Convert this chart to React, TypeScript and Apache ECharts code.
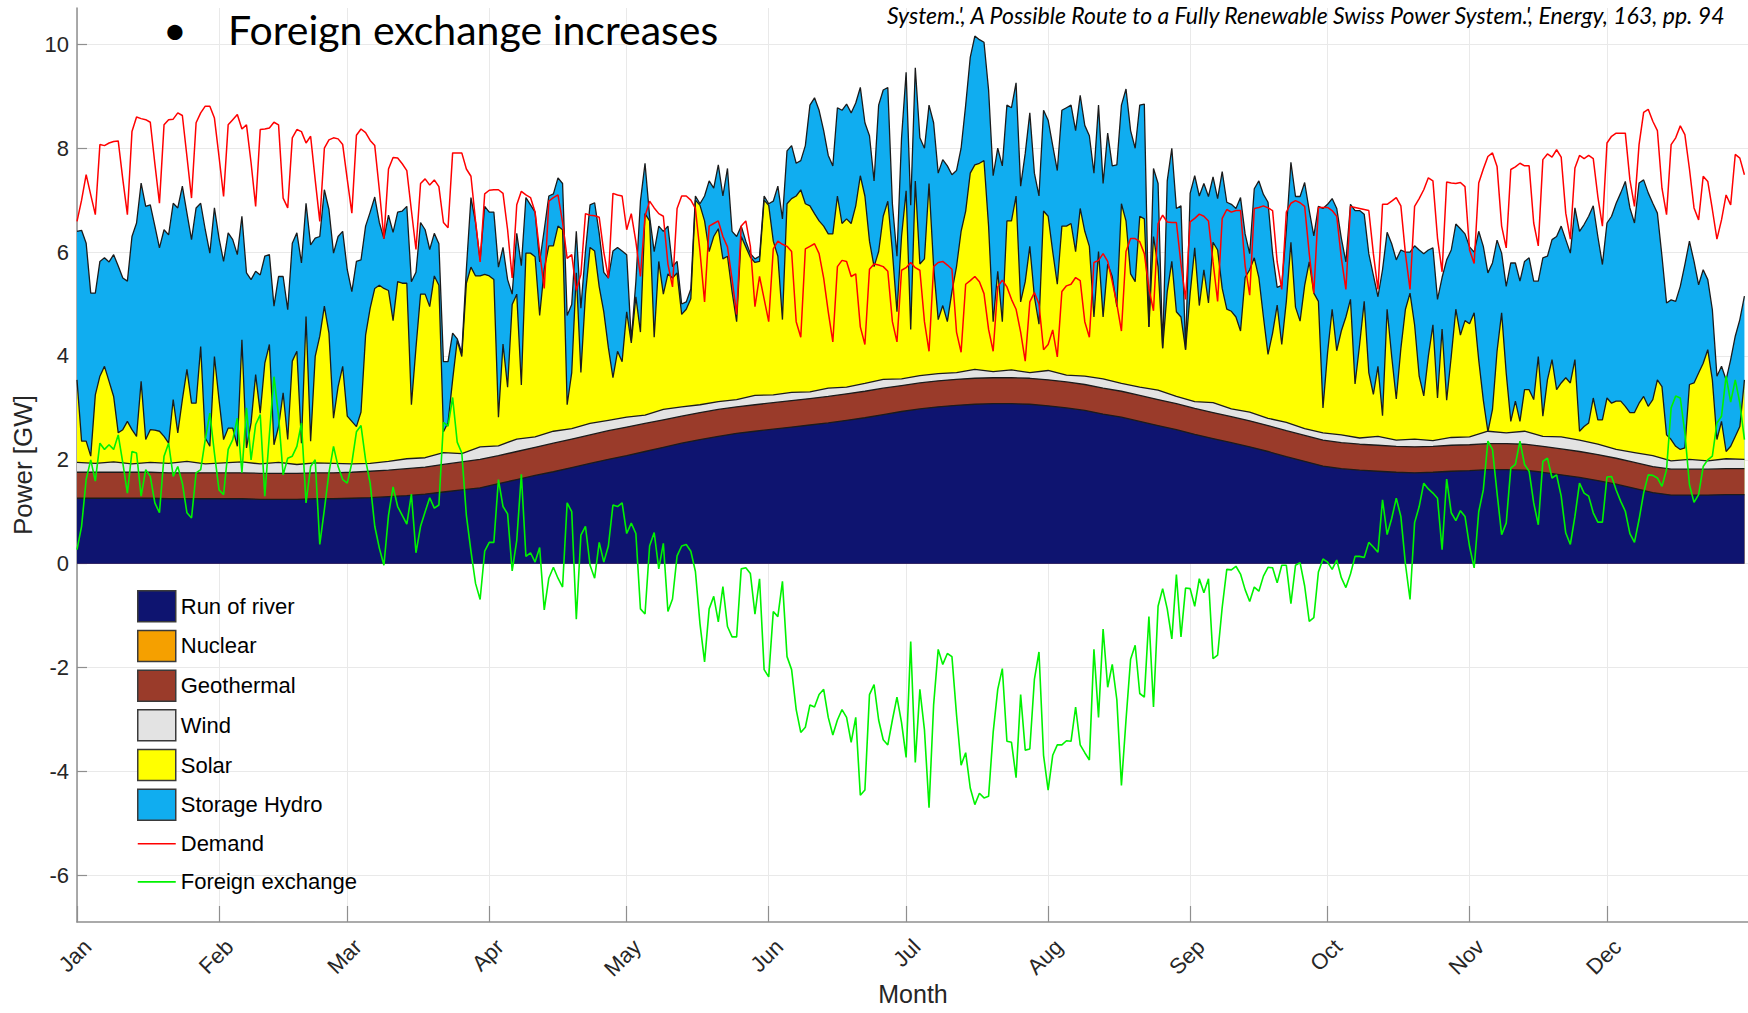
import React, { useEffect, useRef } from 'react';
import * as echarts from 'echarts';

const FONT = '"Liberation Sans", Arial, Helvetica, sans-serif';

const monthNames = ['Jan', 'Feb', 'Mar', 'Apr', 'May', 'Jun', 'Jul', 'Aug', 'Sep', 'Oct', 'Nov', 'Dec'];
const monthStarts = [0, 31, 59, 90, 120, 151, 181, 212, 243, 273, 304, 334];
const yTicks = [-6, -4, -2, 0, 2, 4, 6, 8, 10];

// Daily demand (GW), day 0 = 1 Jan
const demand = [
  6.59, 7.0, 7.49, 7.1, 6.72,
  8.07, 8.05, 8.1, 8.13, 8.14, 7.4, 6.72,
  8.32, 8.6, 8.57, 8.55, 8.5, 7.7, 6.94,
  8.45, 8.55, 8.56, 8.68, 8.63, 7.84, 7.04,
  8.49, 8.68, 8.81, 8.81, 8.58, 7.84, 7.07,
  8.45, 8.55, 8.65, 8.37, 8.45, 7.72, 6.88,
  8.36, 8.37, 8.39, 8.5, 8.45, 7.04, 6.85,
  8.2, 8.36, 8.32, 8.1, 8.23, 7.39, 6.59,
  8.0, 8.16, 8.2, 8.18, 8.07, 7.4, 6.75,
  8.25, 8.37, 8.3, 8.15, 8.05, 7.2, 6.26,
  7.6, 7.82, 7.81, 7.7, 7.57, 6.8, 6.05,
  7.32, 7.41, 7.29, 7.39, 7.26, 6.57, 6.47,
  7.91, 7.91, 7.91, 7.6, 7.46, 6.6, 5.81,
  7.12, 7.19, 7.2, 7.2, 7.13, 6.43, 5.5,
  6.91, 7.17, 7.1, 7.05, 6.77, 6.0, 5.3,
  6.98, 7.05, 7.1, 6.57, 5.88, 5.95, 5.26,
  5.57, 6.74, 6.71, 6.7, 6.67, 6.0, 5.5,
  7.13, 7.1, 7.08, 6.43, 6.74, 6.2, 5.53,
  6.69, 6.98, 6.85, 6.74, 6.69, 5.77, 5.33,
  6.84, 7.08, 7.08, 7.0, 6.84, 6.01, 5.04,
  6.5, 6.55, 6.6, 6.3, 6.1, 5.48, 4.8,
  6.5, 6.6, 6.11, 4.95, 5.53, 5.1, 4.66,
  6.06, 6.21, 6.15, 6.11, 6.01, 4.66, 4.36,
  6.06, 6.11, 6.16, 5.97, 5.5, 4.85, 4.27,
  5.72, 5.84, 5.82, 5.53, 5.58, 4.56, 4.22,
  5.67, 5.77, 5.75, 5.72, 5.63, 4.66, 4.27,
  5.65, 5.7, 5.8, 5.7, 5.65, 4.66, 4.09,
  5.72, 5.8, 5.82, 5.75, 5.67, 4.46, 4.07,
  5.38, 5.45, 5.53, 5.43, 5.2, 4.51, 4.09,
  5.33, 5.46, 5.33, 5.09, 4.9, 4.46, 3.9,
  5.04, 5.22, 5.0, 4.12, 4.22, 4.5, 3.98,
  5.24, 5.35, 5.38, 5.51, 5.45, 4.66, 4.36,
  5.8, 5.84, 5.97, 5.82, 5.43, 5.0, 4.48,
  6.01, 6.26, 6.26, 6.2, 5.97, 5.3, 4.87,
  6.55, 6.71, 6.58, 6.57, 6.57, 5.77, 5.09,
  6.58, 6.65, 6.73, 6.69, 6.6, 5.81, 5.05,
  6.65, 6.82, 6.77, 6.8, 6.8, 5.74, 5.17,
  6.84, 6.86, 6.89, 6.85, 6.8, 5.81, 5.28,
  6.77, 6.94, 6.99, 6.95, 6.88, 5.97, 5.21,
  6.86, 6.86, 6.86, 6.8, 6.69, 5.89, 5.28,
  6.88, 6.86, 6.84, 6.82, 6.8, 5.97, 5.28,
  6.92, 6.92, 6.98, 7.05, 6.89, 5.97, 5.28,
  6.88, 7.03, 7.2, 7.43, 7.37, 6.27, 5.62,
  7.35, 7.33, 7.32, 7.34, 7.26, 6.04, 5.78,
  7.33, 7.6, 7.84, 7.91, 7.65, 6.5, 6.08,
  7.59, 7.64, 7.71, 7.66, 7.66, 6.56, 6.12,
  7.78, 7.89, 7.83, 7.97, 7.83, 6.75, 6.25,
  7.62, 7.86, 7.8, 7.86, 7.8, 7.07, 6.5,
  8.1, 8.23, 8.29, 8.29, 8.29, 7.39, 6.88,
  8.07, 8.69, 8.75, 8.52, 8.34, 7.23, 6.72,
  8.07, 8.2, 8.43, 8.26, 7.6, 6.85, 6.62,
  7.46, 7.36, 6.82, 6.25, 6.62, 7.1, 6.91,
  7.88, 7.81, 7.49,
];

// Daily foreign exchange (GW)
const foreignExchange = [
  0.27, 0.72, 1.62, 2.0, 1.59, 2.32, 2.2, 2.29, 2.2, 2.48,
  1.94, 1.36, 2.16, 2.13, 1.3, 1.81, 1.68, 1.17, 0.98, 2.07,
  2.32, 1.68, 1.87, 1.55, 0.98, 0.88, 1.75, 1.81, 2.39, 2.9,
  2.13, 1.42, 1.33, 2.2, 2.39, 2.8, 1.75, 3.0, 2.0, 2.68,
  2.87, 1.3, 2.48, 3.6, 2.84, 1.71, 2.03, 2.07, 2.26, 2.71,
  1.17, 1.87, 2.0, 0.37, 1.04, 1.75, 2.26, 1.87, 1.62, 1.55,
  1.94, 2.54, 2.66, 2.0, 1.55, 0.72, 0.3, -0.03, 0.93, 1.48,
  1.1, 0.93, 0.76, 1.34, 0.21, 0.72, 1.0, 1.27, 1.07, 1.13,
  2.72, 2.65, 3.2, 2.34, 2.13, 0.93, 0.24, -0.38, -0.69, 0.24,
  0.41, 0.41, 1.62, 1.1, 0.96, -0.14, 0.45, 1.72, 0.14, 0.21,
  0.03, 0.31, -0.89, -0.28, -0.07, -0.28, -0.45, 1.17, 1.0, -1.07,
  0.55, 0.72, -0.03, -0.28, 0.41, 0.03, 0.34, 1.13, 1.1, 1.17,
  0.58, 0.78, 0.58, -0.87, -0.97, 0.34, 0.6, -0.1, 0.39, -0.92,
  -0.68, 0.15, 0.34, 0.37, 0.24, -0.15, -1.16, -1.89, -0.87, -0.63,
  -1.12, -0.44, -1.21, -1.41, -1.41, -0.1, -0.08, -0.19, -0.97, -0.29,
  -2.04, -2.18, -0.92, -1.02, -0.34, -1.79, -2.04, -2.81, -3.25, -3.15,
  -2.72, -2.76, -2.52, -2.42, -2.96, -3.3, -3.01, -2.81, -2.96, -3.44,
  -2.96, -4.46, -4.36, -2.52, -2.33, -3.01, -3.39, -3.49, -3.01, -2.57,
  -3.06, -3.73, -1.5, -3.83, -2.42, -3.2, -4.7, -2.72, -1.65, -1.94,
  -1.73, -1.79, -2.91, -3.88, -3.64, -4.32, -4.64, -4.42, -4.51, -4.48,
  -3.25, -2.42, -2.02, -3.42, -3.44, -4.12, -2.52, -3.59, -3.57, -2.23,
  -1.7, -3.69, -4.36, -3.69, -3.49, -3.49, -3.41, -3.42, -2.76, -3.49,
  -3.64, -3.78, -1.65, -2.96, -1.26, -2.38, -1.94, -2.62, -4.27, -3.01,
  -1.84, -1.57, -2.5, -2.57, -1.02, -2.76, -0.82, -0.48, -0.87, -1.45,
  -0.21, -1.41, -0.47, -0.48, -0.82, -0.29, -0.56, -0.29, -1.83, -1.76,
  -0.84, -0.11, -0.12, -0.05, -0.2, -0.5, -0.73, -0.45, -0.53, -0.24,
  -0.07, -0.08, -0.37, -0.03, -0.03, -0.77, -0.03, 0.02, -0.43, -1.11,
  -1.04, -0.16, 0.09, 0.03, -0.11, 0.07, -0.27, -0.46, -0.2, 0.14,
  0.14, 0.12, 0.41, 0.32, 0.22, 1.23, 0.56, 0.87, 1.26, 0.91,
  -0.01, -0.69, 0.79, 1.1, 1.55, 1.44, 1.36, 1.26, 0.27, 1.63,
  0.98, 0.83, 1.02, 0.91, 0.33, -0.08, 1.0, 1.42, 2.36, 2.2,
  1.36, 0.56, 0.78, 1.84, 1.91, 2.36, 1.91, 1.78, 1.17, 0.75,
  1.97, 2.03, 1.65, 1.71, 1.3, 0.59, 0.37, 0.91, 1.55, 1.36,
  1.3, 0.98, 0.8, 0.8, 1.67, 1.68, 1.42, 1.2, 1.01, 0.58,
  0.41, 0.85, 1.36, 1.71, 1.7, 1.65, 1.49, 1.81, 3.0, 3.23,
  3.19, 2.52, 1.52, 1.18, 1.33, 1.87, 2.0, 2.07, 2.71, 2.84,
  3.61, 3.11, 3.54, 3.09, 2.39,
];

// Daily top edge of the Storage Hydro layer (total generation, GW)
const storageHydroTop = [
  6.4, 6.42, 6.17, 5.21, 5.21, 5.82, 5.89, 5.81, 5.95, 5.73,
  5.5, 5.44, 6.3, 6.56, 7.33, 6.88, 6.91, 6.5, 6.08, 6.43,
  6.33, 6.94, 6.85, 7.27, 6.75, 6.24, 6.85, 6.94, 6.43, 5.98,
  6.85, 6.27, 5.82, 6.37, 6.24, 5.95, 6.69, 5.6, 5.47, 5.63,
  5.56, 5.92, 5.95, 4.96, 5.53, 5.53, 4.89, 6.17, 6.37, 5.79,
  6.94, 6.14, 6.27, 6.3, 7.2, 6.82, 5.98, 6.3, 6.4, 5.66,
  5.24, 5.82, 5.85, 6.5, 6.77, 7.06, 6.57, 6.26, 6.71, 6.38,
  6.77, 6.79, 6.88, 5.43, 5.61, 6.57, 6.43, 6.05, 6.36, 6.16,
  3.89, 3.89, 4.44, 4.33, 4.06, 5.67, 7.05, 6.57, 5.85, 6.88,
  6.77, 6.77, 5.71, 6.09, 5.47, 5.19, 6.36, 5.74, 7.05, 6.91,
  6.77, 5.81, 6.43, 7.08, 7.12, 7.43, 7.32, 4.78, 4.99, 6.4,
  4.92, 6.02, 6.91, 6.95, 6.36, 5.61, 5.5, 6.02, 6.09, 6.02,
  5.95, 4.3, 5.43, 6.98, 7.71, 6.69, 6.01, 6.5, 6.4, 6.5,
  5.72, 5.82, 5.0, 5.04, 5.29, 7.08, 6.93, 7.08, 7.37, 7.23,
  7.68, 7.08, 7.61, 6.4, 6.3, 6.5, 6.21, 5.97, 5.87, 5.92,
  7.08, 6.93, 6.98, 7.27, 6.64, 7.95, 8.05, 7.71, 7.76, 8.05,
  8.83, 8.97, 8.73, 8.34, 7.86, 7.66, 8.78, 8.73, 8.85, 8.68,
  8.87, 9.17, 8.49, 8.24, 7.37, 8.83, 9.12, 9.17, 6.93, 5.92,
  8.2, 9.46, 6.9, 9.55, 8.2, 8.0, 8.83, 8.49, 7.52, 7.78,
  7.66, 7.49, 7.57, 8.0, 8.83, 9.75, 10.16, 10.09, 10.04, 9.12,
  7.47, 8.0, 7.66, 8.83, 8.78, 9.26, 7.27, 7.9, 8.68, 7.52,
  7.08, 8.73, 8.54, 8.05, 7.57, 8.73, 8.78, 8.83, 8.34, 9.02,
  8.44, 8.24, 7.52, 8.83, 7.32, 8.29, 7.66, 7.68, 8.83, 9.14,
  8.34, 8.0, 8.83, 8.85, 4.56, 7.61, 7.32, 4.15, 7.37, 8.0,
  6.84, 6.89, 4.12, 7.13, 7.47, 7.08, 7.32, 7.07, 7.45, 7.03,
  7.55, 6.96, 6.92, 6.84, 7.05, 6.35, 5.97, 7.22, 7.37, 7.11,
  6.96, 5.97, 5.32, 5.36, 6.42, 7.73, 7.07, 7.07, 7.34, 6.8,
  6.31, 6.88, 6.84, 6.92, 7.03, 6.84, 6.27, 5.81, 6.92, 6.8,
  6.8, 6.73, 5.97, 5.55, 5.14, 5.66, 6.38, 6.16, 5.85, 6.04,
  6.0, 6.0, 6.12, 6.04, 5.97, 6.04, 6.08, 5.09, 5.51, 5.85,
  6.04, 6.54, 6.45, 6.35, 6.1, 6.0, 6.4, 6.11, 5.6, 5.79,
  6.23, 5.98, 5.34, 5.79, 5.79, 5.44, 5.82, 5.89, 5.44, 5.44,
  5.89, 5.92, 6.24, 6.3, 6.5, 6.24, 5.98, 6.85, 6.4, 6.53,
  6.69, 6.89, 6.3, 5.76, 6.56, 6.69, 6.94, 7.14, 7.36, 6.85,
  6.56, 7.33, 7.39, 7.14, 6.94, 6.75, 5.92, 5.02, 5.08, 5.05,
  5.34, 5.76, 6.21, 5.82, 5.37, 5.66, 5.47, 4.89, 3.61, 3.8,
  3.54, 3.93, 4.38, 4.7, 5.15,
];

// Daily top edge of the Solar layer (GW)
const solarTop = [
  3.54, 2.36, 2.36, 2.07, 3.25, 3.61, 3.8, 3.51, 3.22, 2.52,
  2.58, 2.74, 2.58, 2.45, 3.51, 2.39, 2.58, 2.57, 2.55, 2.45,
  2.32, 3.16, 2.52, 3.16, 3.74, 3.09, 3.09, 4.18, 2.42, 2.26,
  3.99, 3.16, 2.39, 2.61, 2.61, 2.26, 4.31, 2.23, 2.71, 3.64,
  2.9, 3.86, 4.22, 2.29, 2.64, 3.29, 2.39, 3.9, 4.09, 2.32,
  4.76, 2.36, 3.99, 4.38, 4.96, 4.44, 2.8, 3.41, 3.8, 2.84,
  2.74, 2.64, 2.92, 4.4, 4.92, 5.3, 5.36, 5.3, 5.26, 4.68,
  5.43, 5.4, 5.4, 3.06, 4.16, 5.19, 5.19, 4.95, 5.54, 5.36,
  2.54, 2.72, 3.54, 4.3, 3.99, 5.4, 5.71, 5.54, 5.54, 5.57,
  5.54, 5.47, 2.82, 4.23, 3.4, 4.99, 5.19, 3.44, 5.98, 5.98,
  5.91, 4.78, 5.67, 6.12, 6.12, 6.5, 6.43, 3.06, 3.68, 5.6,
  3.68, 5.19, 6.09, 6.02, 5.33, 4.85, 4.16, 3.58, 4.09, 3.89,
  4.85, 4.25, 5.14, 4.46, 6.74, 6.6, 4.36, 5.82, 5.19, 5.58,
  5.5, 5.6, 4.8, 4.9, 5.1, 7.0, 6.9, 6.6, 6.01, 6.3,
  6.45, 5.87, 5.92, 5.24, 4.66, 6.3, 6.1, 5.9, 5.8, 5.82,
  7.0, 6.9, 6.21, 5.92, 4.7, 6.93, 7.03, 7.08, 7.2, 6.93,
  6.89, 6.74, 6.6, 6.5, 6.35, 6.35, 7.08, 6.55, 6.64, 6.55,
  6.89, 7.47, 7.08, 6.21, 5.72, 6.01, 6.69, 6.98, 6.01, 4.85,
  6.3, 7.18, 4.51, 7.37, 5.77, 5.87, 7.32, 5.72, 4.7, 4.97,
  4.66, 5.24, 5.72, 6.4, 6.79, 7.52, 7.68, 7.71, 7.76, 6.5,
  4.66, 5.63, 4.66, 6.6, 6.6, 7.08, 5.04, 5.43, 6.11, 5.14,
  4.61, 6.79, 6.69, 6.01, 5.38, 6.5, 6.5, 6.55, 6.01, 6.84,
  6.4, 6.11, 4.75, 6.01, 4.75, 5.77, 5.53, 4.95, 6.93, 6.6,
  5.58, 5.43, 6.69, 6.64, 4.56, 6.3, 5.72, 4.15, 5.24, 5.82,
  4.85, 4.75, 4.12, 5.2, 6.08, 4.97, 5.66, 5.02, 6.19, 6.04,
  5.3, 4.9, 4.86, 4.75, 4.48, 5.51, 5.66, 5.89, 5.51, 4.75,
  4.03, 4.44, 4.98, 4.22, 5.05, 6.19, 4.94, 4.67, 5.36, 5.81,
  5.21, 5.05, 3.0, 4.06, 4.9, 4.1, 4.48, 4.75, 5.09, 3.46,
  4.22, 5.05, 3.68, 3.26, 3.8, 2.85, 4.9, 3.99, 3.17, 4.14,
  4.9, 5.21, 4.6, 3.61, 3.23, 3.99, 4.6, 3.19, 4.52, 3.15,
  3.99, 4.9, 4.4, 4.68, 4.62, 4.83, 3.92, 3.15, 2.54, 2.97,
  4.09, 4.83, 3.67, 2.74, 3.13, 2.74, 3.35, 3.35, 3.16, 3.99,
  2.84, 3.54, 3.93, 3.35, 3.48, 3.58, 3.48, 3.93, 2.55, 2.64,
  2.71, 3.19, 2.77, 2.77, 3.19, 3.09, 3.13, 3.13, 3.03, 2.91,
  2.91, 3.09, 3.22, 3.03, 3.16, 3.54, 3.41, 2.48, 2.39, 2.26,
  2.2, 2.23, 3.45, 3.48, 3.67, 3.86, 4.12, 3.54, 2.39, 2.74,
  2.16, 2.26, 2.45, 2.64, 3.54,
];

// Smooth layers, read every 4 days
const smoothDays = [
  0, 4, 8, 12, 16, 20, 24, 28, 32, 36,
  40, 44, 48, 52, 56, 60, 64, 68, 72, 76,
  80, 84, 88, 92, 96, 100, 104, 108, 112, 116,
  120, 124, 128, 132, 136, 140, 144, 148, 152, 156,
  160, 164, 168, 172, 176, 180, 184, 188, 192, 196,
  200, 204, 208, 212, 216, 220, 224, 228, 232, 236,
  240, 244, 248, 252, 256, 260, 264, 268, 272, 276,
  280, 284, 288, 292, 296, 300, 304, 308, 312, 316,
  320, 324, 328, 332, 336, 340, 344, 348, 352, 356,
  360, 364,
];
const runOfRiverTop = [
  1.26, 1.26, 1.26, 1.26, 1.26, 1.25, 1.25, 1.25, 1.25, 1.25,
  1.24, 1.24, 1.24, 1.25, 1.25, 1.26, 1.27, 1.29, 1.31, 1.34,
  1.38, 1.42, 1.46, 1.54, 1.62, 1.70, 1.77, 1.85, 1.93, 2.01,
  2.08, 2.16, 2.24, 2.32, 2.39, 2.45, 2.51, 2.55, 2.59, 2.63,
  2.67, 2.71, 2.76, 2.81, 2.87, 2.93, 2.98, 3.02, 3.05, 3.07,
  3.08, 3.08, 3.07, 3.04, 3.00, 2.95, 2.88, 2.82, 2.74, 2.66,
  2.58, 2.49, 2.41, 2.33, 2.25, 2.16, 2.06, 1.97, 1.88, 1.83,
  1.80, 1.78, 1.76, 1.75, 1.76, 1.78, 1.79, 1.81, 1.81, 1.80,
  1.76, 1.71, 1.66, 1.60, 1.53, 1.45, 1.37, 1.32, 1.32, 1.32,
  1.33, 1.33,
];
const geothermalTop = [
  1.76, 1.76, 1.76, 1.76, 1.76, 1.75, 1.75, 1.75, 1.75, 1.75,
  1.74, 1.74, 1.74, 1.75, 1.75, 1.76, 1.78, 1.80, 1.83, 1.86,
  1.91, 1.96, 2.01, 2.08, 2.16, 2.24, 2.32, 2.40, 2.48, 2.56,
  2.63, 2.70, 2.77, 2.84, 2.91, 2.97, 3.02, 3.06, 3.10, 3.14,
  3.18, 3.22, 3.27, 3.32, 3.38, 3.43, 3.48, 3.52, 3.55, 3.57,
  3.58, 3.58, 3.57, 3.54, 3.50, 3.45, 3.38, 3.32, 3.24, 3.16,
  3.08, 2.99, 2.91, 2.83, 2.75, 2.66, 2.56, 2.47, 2.38, 2.33,
  2.30, 2.28, 2.26, 2.25, 2.26, 2.28, 2.29, 2.31, 2.31, 2.30,
  2.26, 2.21, 2.16, 2.10, 2.03, 1.95, 1.87, 1.82, 1.82, 1.82,
  1.83, 1.83,
];
const windTop = [
  1.95, 1.93, 1.96, 1.92, 1.95, 1.93, 1.97, 1.92, 1.94, 1.96,
  1.92, 1.95, 1.91, 1.94, 1.93, 1.92, 1.93, 1.97, 2.02, 2.04,
  2.14, 2.12, 2.25, 2.27, 2.40, 2.44, 2.55, 2.60, 2.70, 2.76,
  2.82, 2.86, 2.97, 3.02, 3.06, 3.12, 3.16, 3.24, 3.25, 3.30,
  3.31, 3.38, 3.40, 3.47, 3.55, 3.56, 3.62, 3.66, 3.68, 3.74,
  3.70, 3.73, 3.68, 3.72, 3.63, 3.61, 3.56, 3.47, 3.40, 3.34,
  3.22, 3.12, 3.10, 2.98, 2.92, 2.80, 2.72, 2.60, 2.52, 2.48,
  2.42, 2.45, 2.38, 2.40, 2.37, 2.43, 2.44, 2.55, 2.52, 2.55,
  2.45, 2.44, 2.38, 2.30, 2.20, 2.14, 2.08, 1.98, 2.01, 1.98,
  2.02, 2.01,
];

const colors = {
  river: '#0e1470',
  nuclear: '#f5a000',
  geothermal: '#9a3b2a',
  wind: '#e3e3e3',
  solar: '#ffff00',
  hydro: '#10adf0',
  demand: '#ff0000',
  exchange: '#00f200',
};

function daily(values: number[]) {
  return values.map((v, i) => [i, v]);
}
function onDays(days: number[], values: number[]) {
  return days.map((d, i) => [d, values[i]]);
}

function area(name: string, data: number[][], color: string) {
  return {
    name,
    type: 'line',
    data,
    symbol: 'none',
    showSymbol: false,
    silent: true,
    z: 2,
    itemStyle: { color },
    lineStyle: { color: '#1b1b1b', width: 1.3 },
    areaStyle: { color, opacity: 1 },
    emphasis: { disabled: true },
  };
}

function line(name: string, data: number[][], color: string, width: number) {
  return {
    name,
    type: 'line',
    data,
    symbol: 'none',
    showSymbol: false,
    silent: true,
    z: 3,
    itemStyle: { color },
    lineStyle: { color, width },
    emphasis: { disabled: true },
  };
}

function buildOption() {
  const axisGray = '#8f8f8f';
  const gridGray = '#e9e9e9';
  const boxItem = (name: string) => ({
    name,
    icon: 'rect',
    itemStyle: { borderColor: '#3a3a3a', borderWidth: 1.5 },
  });
  // thin horizontal stroke centred in a 38x31 box (the corner moves keep the box size)
  const lineItem = (name: string) => ({
    name,
    icon: 'path://M0,0L0,0M38,31L38,31M0,14.7H38V16.3H0Z',
    itemStyle: { borderWidth: 0 },
  });
  return {
    animation: false,
    backgroundColor: '#ffffff',
    grid: { left: 77, top: 8, width: 1672, height: 914, containLabel: false, outerBoundsMode: 'none' },
    xAxis: {
      type: 'value',
      min: 0,
      max: 365,
      name: 'Month',
      nameLocation: 'middle',
      nameGap: 59,
      nameMoveOverlap: false,
      nameTextStyle: { fontSize: 25, color: '#262626', fontFamily: FONT },
      axisLine: { show: true, onZero: false, lineStyle: { color: axisGray, width: 1.5 } },
      axisTick: { show: true, inside: true, length: 16, customValues: monthStarts, lineStyle: { color: axisGray, width: 1.2 } },
      axisLabel: {
        customValues: monthStarts,
        rotate: 45,
        margin: 10.5,
        verticalAlign: 'top',
        lineHeight: 30,
        fontSize: 22,
        color: '#262626',
        fontFamily: FONT,
        formatter: (v: number) => {
          const k = monthStarts.indexOf(v);
          return k >= 0 ? monthNames[k] : '';
        },
      },
      splitLine: { show: true, lineStyle: { color: gridGray, width: 1 } },
    },
    yAxis: {
      type: 'value',
      min: -6.9,
      max: 10.7,
      name: 'Power [GW]',
      nameLocation: 'middle',
      nameGap: 41,
      nameMoveOverlap: false,
      nameTextStyle: { fontSize: 26, color: '#262626', fontFamily: FONT },
      axisLine: { show: true, onZero: false, lineStyle: { color: axisGray, width: 1.5 } },
      axisTick: { show: true, inside: true, length: 10, customValues: yTicks, lineStyle: { color: axisGray, width: 1.2 } },
      axisLabel: {
        customValues: yTicks,
        margin: 8,
        fontSize: 22,
        color: '#262626',
        fontFamily: FONT,
        formatter: (v: number) => String(v),
      },
      splitLine: { show: true, lineStyle: { color: gridGray, width: 1 } },
    },
    legend: {
      orient: 'vertical',
      left: 137,
      top: 590,
      padding: 0,
      itemWidth: 38,
      itemHeight: 31,
      itemGap: 7.2,
      selectedMode: false,
      textStyle: { fontSize: 22, color: '#000', fontFamily: FONT },
      data: [
        boxItem('Run of river'),
        boxItem('Nuclear'),
        boxItem('Geothermal'),
        boxItem('Wind'),
        boxItem('Solar'),
        boxItem('Storage Hydro'),
        lineItem('Demand'),
        lineItem('Foreign exchange'),
      ],
    },
    graphic: [
      {
        type: 'text', x: 175, y: 29, z: 100, silent: true,
        style: { text: '•', font: '41px Lato', fill: '#000', align: 'center', verticalAlign: 'middle' },
      },
      {
        type: 'text', x: 228, y: 29, z: 100, silent: true,
        style: { text: 'Foreign exchange increases', font: '41px Lato', fill: '#000', align: 'left', verticalAlign: 'middle' },
      },
      {
        type: 'text', x: 887, y: 14.5, z: 100, silent: true,
        style: {
          text: "System.', A Possible Route to a Fully Renewable Swiss Power System.', Energy, 163, pp. 94",
          font: 'italic 23px Lato', fill: '#000', align: 'left', verticalAlign: 'middle',
        },
      },
    ],
    series: [
      area('Storage Hydro', daily(storageHydroTop), colors.hydro),
      area('Solar', daily(solarTop), colors.solar),
      area('Wind', onDays(smoothDays, windTop), colors.wind),
      area('Geothermal', onDays(smoothDays, geothermalTop), colors.geothermal),
      area('Nuclear', [], colors.nuclear),
      area('Run of river', onDays(smoothDays, runOfRiverTop), colors.river),
      line('Demand', daily(demand), colors.demand, 1.5),
      line('Foreign exchange', daily(foreignExchange), colors.exchange, 1.6),
    ],
  };
}

export default function App() {
  const ref = useRef<HTMLDivElement>(null);
  useEffect(() => {
    if (!ref.current) return;
    const chart = echarts.init(ref.current, null, { renderer: 'svg' });
    chart.setOption(buildOption() as any);
    return () => {
      chart.dispose();
    };
  }, []);
  return (
    <div
      ref={ref}
      style={{ position: 'fixed', left: 0, top: 0, width: 1748, height: 1013, background: '#ffffff' }}
    />
  );
}
